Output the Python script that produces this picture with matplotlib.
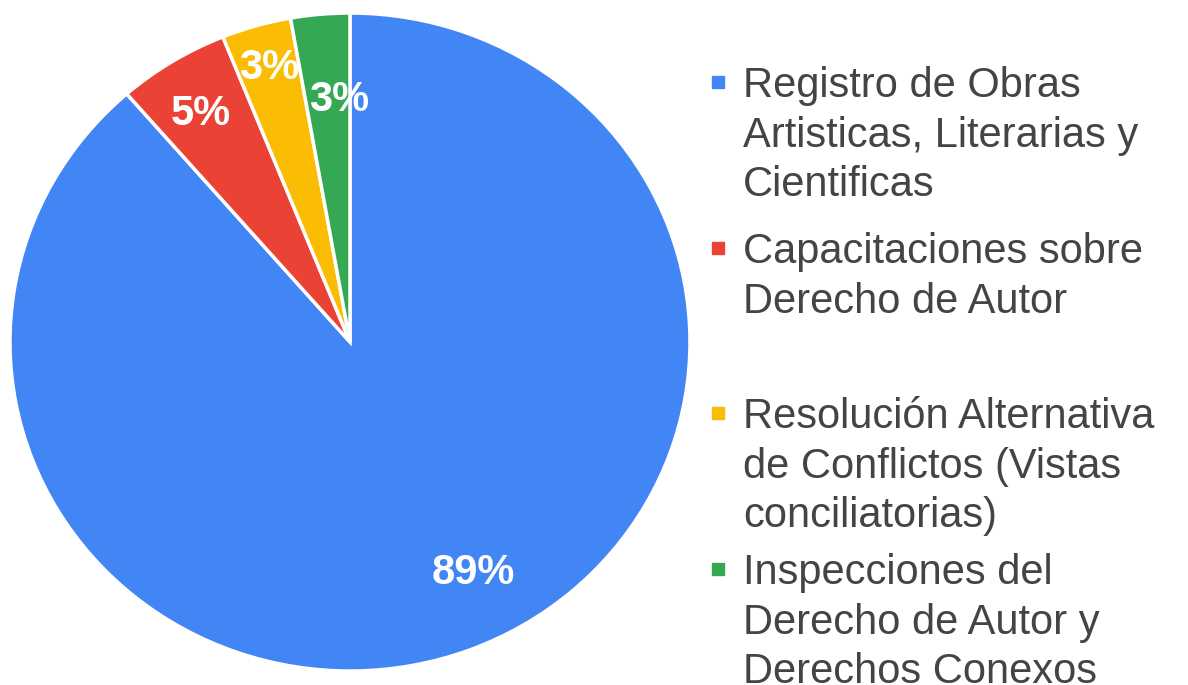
import matplotlib.pyplot as plt
from matplotlib.patches import Rectangle
import numpy as np

categories = [
    "Registro de Obras\nArtisticas, Literarias y\nCientificas",
    "Capacitaciones sobre\nDerecho de Autor",
    "Resolución Alternativa\nde Conflictos (Vistas\nconciliatorias)",
    "Inspecciones del\nDerecho de Autor y\nDerechos Conexos",
]
values = [88.6, 5.3, 3.3, 2.8]
colors = ["#4285F4", "#EA4335", "#FBBC04", "#34A853"]
label_dist = [0.79, 0.82, 0.865, 0.735]
label_turn = [6.7, 0.8, 0.0, -2.6]

plt.rcParams['font.family'] = ['Liberation Sans', 'DejaVu Sans']

fig = plt.figure(figsize=(11.88, 6.85), dpi=100)
ax = fig.add_axes([0.0084, 0.0204, 0.5724, 0.9606])

wedges, texts, autotexts = ax.pie(
    values, colors=colors, startangle=90, counterclock=False,
    autopct='%.0f%%', pctdistance=0.8,
    wedgeprops=dict(edgecolor='white', linewidth=2.5),
    textprops=dict(color='white', fontsize=30, fontweight='bold'))

# place each percentage near its wedge's bisector
for w, t, d, turn in zip(wedges, autotexts, label_dist, label_turn):
    ang = np.deg2rad((w.theta1 + w.theta2) / 2 + turn)
    t.set_position((d * np.cos(ang), d * np.sin(ang)))
    t.set_ha('center')
    t.set_va('center')

ax.set_aspect('auto')
ax.set_xlim(-1.0, 1.0)
ax.set_ylim(-1.0, 1.0)

# legend drawn by hand, marker aligned with the first line
item_y = [82, 248, 413, 569]
for lab, col, y in zip(categories, colors, item_y):
    fy = 1 - y / 685
    fig.patches.append(Rectangle((712 / 1188, fy - 6 / 685), 12 / 1188, 12 / 685,
                                 transform=fig.transFigure, color=col))
    fig.text(743 / 1188, fy + 16 / 685, lab, fontsize=30, color='#444444',
             va='top', linespacing=1.31,
             transform=fig.transFigure)

fig.savefig('out.png', dpi=100)
